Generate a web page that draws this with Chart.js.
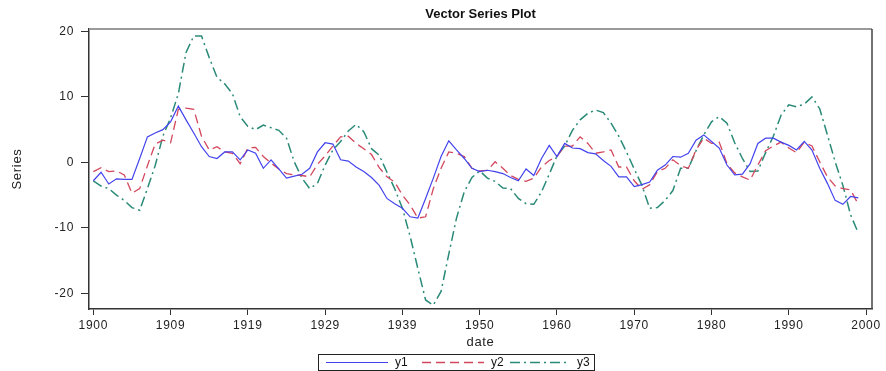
<!DOCTYPE html>
<html><head><meta charset="utf-8">
<script src="https://cdn.jsdelivr.net/npm/chart.js@4.4.1/dist/chart.umd.min.js"></script>
<style>html,body{margin:0;padding:0;background:#fff}#wrap{width:886px;height:371px;position:relative}</style>
</head><body><div id="wrap"><canvas id="c"></canvas></div>
<script>
const chartTitle = 'Vector Series Plot';
const xTitle = 'date';
const yTitle = 'Series';
const seriesNames = ['y1', 'y2', 'y3'];
const years = [1900,1901,1902,1903,1904,1905,1906,1907,1908,1909,1910,1911,1912,1913,1914,1915,1916,1917,1918,1919,
1920,1921,1922,1923,1924,1925,1926,1927,1928,1929,1930,1931,1932,1933,1934,1935,1936,1937,1938,1939,
1940,1941,1942,1943,1944,1945,1946,1947,1948,1949,1950,1951,1952,1953,1954,1955,1956,1957,1958,1959,
1960,1961,1962,1963,1964,1965,1966,1967,1968,1969,1970,1971,1972,1973,1974,1975,1976,1977,1978,1979,
1980,1981,1982,1983,1984,1985,1986,1987,1988,1989,1990,1991,1992,1993,1994,1995,1996,1997,1998,1999];
const y1 = [-2.8,-1.5,-3.3,-2.5,-2.6,-2.6,0.6,3.9,4.5,5.0,6.2,8.6,6.5,4.5,2.4,0.9,0.6,1.6,1.6,0.4,
1.9,1.4,-0.9,0.4,-1.0,-2.4,-2.1,-1.8,-0.9,1.6,3.0,2.8,0.4,0.2,-0.7,-1.4,-2.3,-3.5,-5.5,-6.3,
-7.0,-8.3,-8.5,-5.5,-2.4,0.9,3.3,1.9,0.6,-0.9,-1.4,-1.2,-1.4,-1.7,-2.3,-2.8,-1.0,-2.0,0.6,2.6,
0.9,2.9,2.2,2.1,1.5,1.3,0.3,-0.6,-2.2,-2.2,-3.7,-3.4,-3.0,-1.2,-0.4,0.9,0.8,1.4,3.4,4.2,
3.2,2.2,-0.4,-1.9,-1.8,-0.2,2.9,3.7,3.7,3.1,2.6,1.9,3.2,1.9,-0.9,-3.2,-5.8,-6.4,-5.2,-5.4];
const y2 = [-1.4,-0.8,-1.4,-1.3,-1.9,-4.7,-4.0,-0.5,2.8,3.4,3.0,8.1,8.3,8.1,4.0,1.9,2.4,1.6,1.4,-0.2,
2.2,2.3,0.9,-0.1,-1.0,-1.7,-1.9,-2.0,-2.2,-0.3,1.0,2.5,3.9,4.0,2.9,2.1,1.2,-0.8,-2.2,-3.0,
-5.0,-6.5,-8.5,-8.3,-4.0,-0.9,1.6,1.4,0.9,-0.9,-1.3,-1.2,0.1,-0.9,-2.0,-2.6,-2.9,-2.4,-0.7,0.3,
0.9,2.5,2.5,3.9,2.9,1.4,1.6,1.9,-0.7,-0.7,-2.8,-4.1,-3.4,-1.4,-0.9,0.4,-0.5,-0.9,1.9,3.7,
2.9,3.1,-0.2,-1.6,-2.2,-2.7,-0.4,1.8,2.5,3.1,2.2,1.5,3.1,2.5,0.1,-2.2,-3.6,-4.0,-4.2,-6.4];
const y3 = [-2.8,-3.6,-4.0,-5.0,-5.8,-6.9,-7.3,-4.0,-0.5,4.0,6.8,10.5,16.8,19.3,19.3,16.0,13.0,12.0,10.5,7.0,
5.5,5.0,5.7,5.3,4.9,3.7,0.1,-2.4,-4.0,-3.2,-0.4,1.9,3.2,4.8,5.8,4.7,2.1,1.1,-1.5,-4.0,
-7.0,-11.3,-16.2,-21.0,-21.8,-19.7,-14.0,-8.5,-4.5,-2.3,-1.3,-2.4,-2.9,-3.9,-4.0,-5.5,-6.3,-6.4,-4.5,-1.8,
1.0,2.5,4.9,6.5,7.5,8.0,7.6,6.0,4.0,1.6,-1.0,-3.5,-7.0,-6.9,-5.8,-4.3,-0.9,-0.9,1.8,4.2,
6.2,7.0,6.0,3.0,0.6,-1.4,-1.3,1.5,4.0,7.2,8.8,8.5,8.9,10.0,8.2,4.2,0.1,-3.5,-8.0,-10.8];
const xTickValues = [1900,1910,1920,1930,1940,1950,1960,1970,1980,1990,2000];
const xTickLabels = ['1900','1909','1919','1929','1939','1950','1960','1970','1980','1990','2000'];
const yTickValues = [-20,-10,0,10,20];

const FONT = "'Liberation Sans', Arial, sans-serif";
const colors = ['#4343ee', '#d2475c', '#2a8a78'];
const dashes = [[], [9, 5], [10, 4, 2, 4]];
const widths = [1.2, 1.3, 1.5];
const series = [y1, y2, y3];

const datasets = series.map((vals, k) => ({
  label: seriesNames[k],
  data: years.map((yr, i) => ({x: yr, y: vals[i]})),
  borderColor: colors[k],
  borderWidth: widths[k],
  borderDash: dashes[k],
  pointRadius: 0,
  fill: false,
  tension: 0
}));

const decor = {
  id: 'decor',
  beforeDraw(chart) {
    if ('letterSpacing' in chart.ctx) chart.ctx.letterSpacing = '0.7px';
  },
  afterDraw(chart) {
    const {ctx, chartArea: a} = chart;
    ctx.save();
    if ('letterSpacing' in ctx) ctx.letterSpacing = '0px';
    // frame top & right
    ctx.strokeStyle = '#9a9a9a';
    ctx.lineWidth = 2;
    ctx.beginPath(); ctx.moveTo(a.left, a.top); ctx.lineTo(a.right, a.top); ctx.stroke();
    ctx.strokeStyle = '#444';
    ctx.lineWidth = 1.5;
    ctx.beginPath(); ctx.moveTo(a.right, a.top); ctx.lineTo(a.right, a.bottom); ctx.stroke();
    // title
    ctx.fillStyle = '#111';
    ctx.font = "bold 13px " + FONT;
    ctx.textAlign = 'center'; ctx.textBaseline = 'middle';
    ctx.fillText(chartTitle, (a.left + a.right) / 2, 14);
    // legend
    const bw = 276, bh = 16;
    const bx = 318, by = 354;
    ctx.strokeStyle = '#222'; ctx.lineWidth = 1;
    ctx.strokeRect(bx + 0.5, by + 0.5, bw, bh);
    const segs = [[8, 70, 77], [104, 166, 173], [192, 252, 259]];
    ctx.font = "12px " + FONT;
    ctx.textAlign = 'left';
    chart.data.datasets.forEach((ds, k) => {
      const [s0, s1, t] = segs[k];
      const ly = by + bh / 2 + 0.5;
      ctx.strokeStyle = ds.borderColor; ctx.lineWidth = ds.borderWidth;
      ctx.setLineDash(ds.borderDash);
      ctx.beginPath(); ctx.moveTo(bx + s0, ly); ctx.lineTo(bx + s1, ly); ctx.stroke();
      ctx.setLineDash([]);
      ctx.fillStyle = '#111';
      ctx.fillText(ds.label, bx + t, ly);
    });
    ctx.restore();
  }
};

new Chart(document.getElementById('c'), {
  type: 'line',
  data: {datasets},
  plugins: [decor],
  options: {
    responsive: true,
    maintainAspectRatio: false,
    animation: false,
    layout: {padding: {top: 29, right: 14, bottom: 0, left: 0}},
    plugins: {legend: {display: false}, title: {display: false}, tooltip: {enabled: false}},
    scales: {
      x: {
        type: 'linear', min: 1899.44, max: 2000.77,
        afterBuildTicks: s => { s.ticks = xTickValues.map(v => ({value: v})); },
        afterFit: s => { s.height = 62; },
        ticks: {
          autoSkip: false, maxRotation: 0, padding: 3, color: '#222',
          font: {family: FONT, size: 12},
          callback: v => { const i = xTickValues.indexOf(v); return i >= 0 ? xTickLabels[i] : ''; }
        },
        grid: {drawOnChartArea: false, drawTicks: true, tickLength: 6, color: '#333', lineWidth: 1},
        border: {display: true, color: '#333', width: 1.5},
        title: {display: true, text: xTitle, color: '#222', font: {family: FONT, size: 13}, padding: {top: 0, bottom: 21}}
      },
      y: {
        min: -22.38, max: 20.37,
        afterBuildTicks: s => { s.ticks = yTickValues.map(v => ({value: v})); },
        afterFit: s => { s.width = 89; },
        ticks: {padding: 7, color: '#222', font: {family: FONT, size: 12}},
        grid: {drawOnChartArea: false, drawTicks: true, tickLength: 8, color: '#333', lineWidth: 1},
        border: {display: true, color: '#333', width: 1.5},
        title: {display: true, text: yTitle, color: '#222', font: {family: "'Liberation Sans Narrow', " + FONT, size: 13}, padding: {top: 10, bottom: 0}}
      }
    }
  }
});
</script></body></html>
